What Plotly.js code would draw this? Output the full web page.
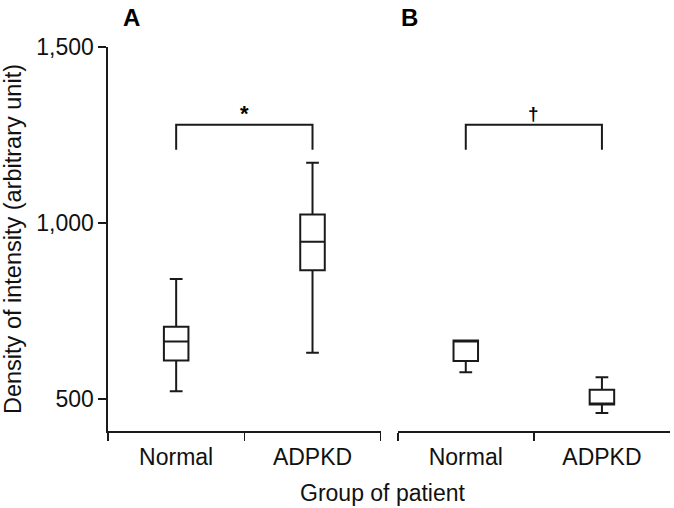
<!DOCTYPE html>
<html>
<head>
<meta charset="utf-8">
<script src="https://cdn.plot.ly/plotly-3.0.1.min.js"></script>
<style>html,body{margin:0;padding:0;background:#fff;}#chart{width:674px;height:508px;}</style>
</head>
<body>
<div id="chart"></div>
<script>
// Categories
var groups = ['Normal', 'ADPKD'];
// Panel A box statistics (Normal, ADPKD)
var aLower  = [522, 631];
var aQ1     = [609, 866];
var aMedian = [663, 947];
var aQ3     = [705, 1024];
var aUpper  = [841, 1171];
// Panel B box statistics (Normal, ADPKD)
var bLower  = [576, 460];
var bQ1     = [608, 484];
var bMedian = [666, 484];
var bQ3     = [666, 526];
var bUpper  = [666, 562];
// Significance brackets
var bracketLow = 1208;
var bracketHigh = 1279;
var markA = '*';
var markB = '\u2020';
// Axis ticks
var yTicks = [500, 1000, 1500];
var yRange = [409, 1500];

var ink = '#1a1a1a';
var font = 'Liberation Sans, Arial, sans-serif';

function boxTrace(lower, q1, med, q3, upper, xa) {
  return {
    type: 'box', x: groups, xaxis: xa, yaxis: 'y',
    lowerfence: lower, q1: q1, median: med, q3: q3, upperfence: upper,
    width: 0.18, whiskerwidth: 0.52, boxpoints: false,
    fillcolor: '#ffffff', line: {color: ink, width: 2},
    showlegend: false, hoverinfo: 'skip'
  };
}
function bracket(xa) {
  return {
    type: 'scatter', mode: 'lines', xaxis: xa, yaxis: 'y',
    x: [groups[0], groups[0], groups[1], groups[1]],
    y: [bracketLow, bracketHigh, bracketHigh, bracketLow],
    line: {color: ink, width: 2}, showlegend: false, hoverinfo: 'skip'
  };
}

var data = [
  boxTrace(aLower, aQ1, aMedian, aQ3, aUpper, 'x'),
  boxTrace(bLower, bQ1, bMedian, bQ3, bUpper, 'x2'),
  bracket('x'), bracket('x2')
];

var xCommon = {
  type: 'category', categoryorder: 'array', categoryarray: groups,
  range: [-0.5, 1.5], tickson: 'boundaries', ticks: 'outside', ticklen: 8,
  tickwidth: 1.6, tickcolor: ink, showline: true, linecolor: ink, linewidth: 1.6,
  showgrid: false, zeroline: false, tickfont: {family: font, size: 23, color: '#111'},
  ticklabelstandoff: 5, fixedrange: true
};

var layout = {
  width: 674, height: 508,
  margin: {l: 108, r: 4, t: 47, b: 77},
  paper_bgcolor: '#fff', plot_bgcolor: '#fff',
  font: {family: font, color: '#111'},
  xaxis: Object.assign({}, xCommon, {domain: [0, 0.4852], anchor: 'y'}),
  xaxis2: Object.assign({}, xCommon, {domain: [0.5155, 1], anchor: 'y'}),
  yaxis: {
    range: yRange, tickmode: 'array', tickvals: yTicks, tickformat: ',',
    ticks: 'outside', ticklen: 8, tickwidth: 1.6, tickcolor: ink,
    showline: true, linecolor: ink, linewidth: 1.6, showgrid: false, zeroline: false,
    tickfont: {family: font, size: 23, color: '#111'},
    title: {text: 'Density of intensity (arbitrary unit)', font: {family: font, size: 23.5, color: '#111'}, standoff: 8},
    fixedrange: true
  },
  annotations: [
    {xref: 'paper', yref: 'paper', x: 0.489, y: -0.161, text: 'Group of patient', showarrow: false,
     xanchor: 'center', yanchor: 'middle', font: {family: font, size: 23, color: '#111'}},
    {xref: 'paper', yref: 'paper', x: 0.041, y: 1.078, text: '<b>A</b>', showarrow: false,
     xanchor: 'center', yanchor: 'middle', font: {family: font, size: 24, color: '#000'}},
    {xref: 'paper', yref: 'paper', x: 0.537, y: 1.078, text: '<b>B</b>', showarrow: false,
     xanchor: 'center', yanchor: 'middle', font: {family: font, size: 24, color: '#000'}},
    {xref: 'x', yref: 'y', x: 0.5, y: bracketHigh, text: '<b>' + markA + '</b>', showarrow: false,
     xanchor: 'center', yanchor: 'bottom', yshift: -3, font: {family: font, size: 22, color: '#000'}},
    {xref: 'x2', yref: 'y', x: 0.5, y: bracketHigh, text: '<b>' + markB + '</b>', showarrow: false,
     xanchor: 'center', yanchor: 'bottom', yshift: -1, font: {family: font, size: 19, color: '#000'}}
  ]
};

Plotly.newPlot('chart', data, layout, {displayModeBar: false, staticPlot: true});
</script>
</body>
</html>
